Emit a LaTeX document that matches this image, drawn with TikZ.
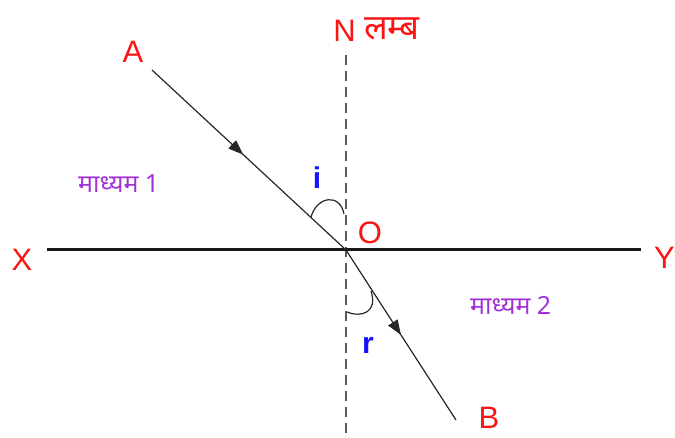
\documentclass[tikz,border=0pt]{standalone}
\usepackage{fontspec}
\setmainfont{Liberation Sans}
\newfontfamily\devfont[Script=Devanagari]{Noto Sans}
\usetikzlibrary{arrows.meta,decorations.markings}
\definecolor{lblred}{RGB}{250,20,20}
\definecolor{lblpurple}{RGB}{160,50,215}
\definecolor{lblblue}{RGB}{20,20,250}
\definecolor{normalgray}{RGB}{90,90,90}
\tikzset{
  ptlabel/.style={text=lblred, font=\fontsize{31}{34}\selectfont, inner sep=0pt},
  anglabel/.style={text=lblblue, font=\bfseries\fontsize{30}{34}\selectfont, inner sep=0pt},
  medlabel/.style={text=lblpurple, font=\devfont\bfseries\fontsize{25}{30}\selectfont, inner sep=0pt},
  surface/.style={line width=3pt, black!90},
  normalline/.style={line width=2pt, normalgray, dash pattern=on 10pt off 6pt},
  ray/.style={line width=1.2pt, black!85},
  midarrow/.style={postaction={decorate}, decoration={markings,
     mark=at position #1 with {\arrow{Triangle[length=15pt,width=11pt]}}}},
  anglearc/.style={line width=1.2pt, black!85}
}
\begin{document}
\begin{tikzpicture}[x=1pt,y=-1pt]
\useasboundingbox (0,0) rectangle (675,438);
% points
\coordinate (O) at (346,250);
\coordinate (Xend) at (47,250);
\coordinate (Yend) at (641,250);
\coordinate (Ntop) at (346,55);
\coordinate (Nbot) at (346,440);
\coordinate (Astart) at (152,70);
\coordinate (Bend) at (456,420);
% lines
\draw[normalline] (Ntop) -- (Nbot);
\draw[surface] (Xend) -- (Yend);
\draw[ray, midarrow=0.47] (Astart) -- (O);
\draw[ray, midarrow=0.5] (O) -- (Bend);
% angle arcs
\coordinate (ia) at (311,217);
\coordinate (ib) at (344,214);
\draw[anglearc] (ia) .. controls (317,196) and (340,193) .. (ib);
\coordinate (ra) at (347,312);
\coordinate (rb) at (371,291);
\draw[anglearc] (ra) .. controls (362,318) and (378,312) .. (rb);
% labels
\node[ptlabel] (A) at (133,52) {A};
\node[ptlabel, anchor=base] (N) at (344.5,42) {N};
\node[text=lblred, font=\devfont\fontsize{35}{38}\selectfont, inner sep=0pt, anchor=base west] (lamb) at (364,40) {लम्ब};
\node[ptlabel] (X) at (22,260) {X};
\node[ptlabel, anchor=west] (Y) at (654,258) {Y};
\node[ptlabel] (Olab) at (370,233) {O};
\node[ptlabel] (B) at (489,418) {B};
\node[anglabel] (i) at (317,178) {i};
\node[anglabel] (r) at (368,345) {r};
\node[medlabel, anchor=base west] (m1) at (78,193) {माध्यम 1};
\node[medlabel, anchor=base west] (m2) at (470,315) {माध्यम 2};
\end{tikzpicture}
\end{document}
